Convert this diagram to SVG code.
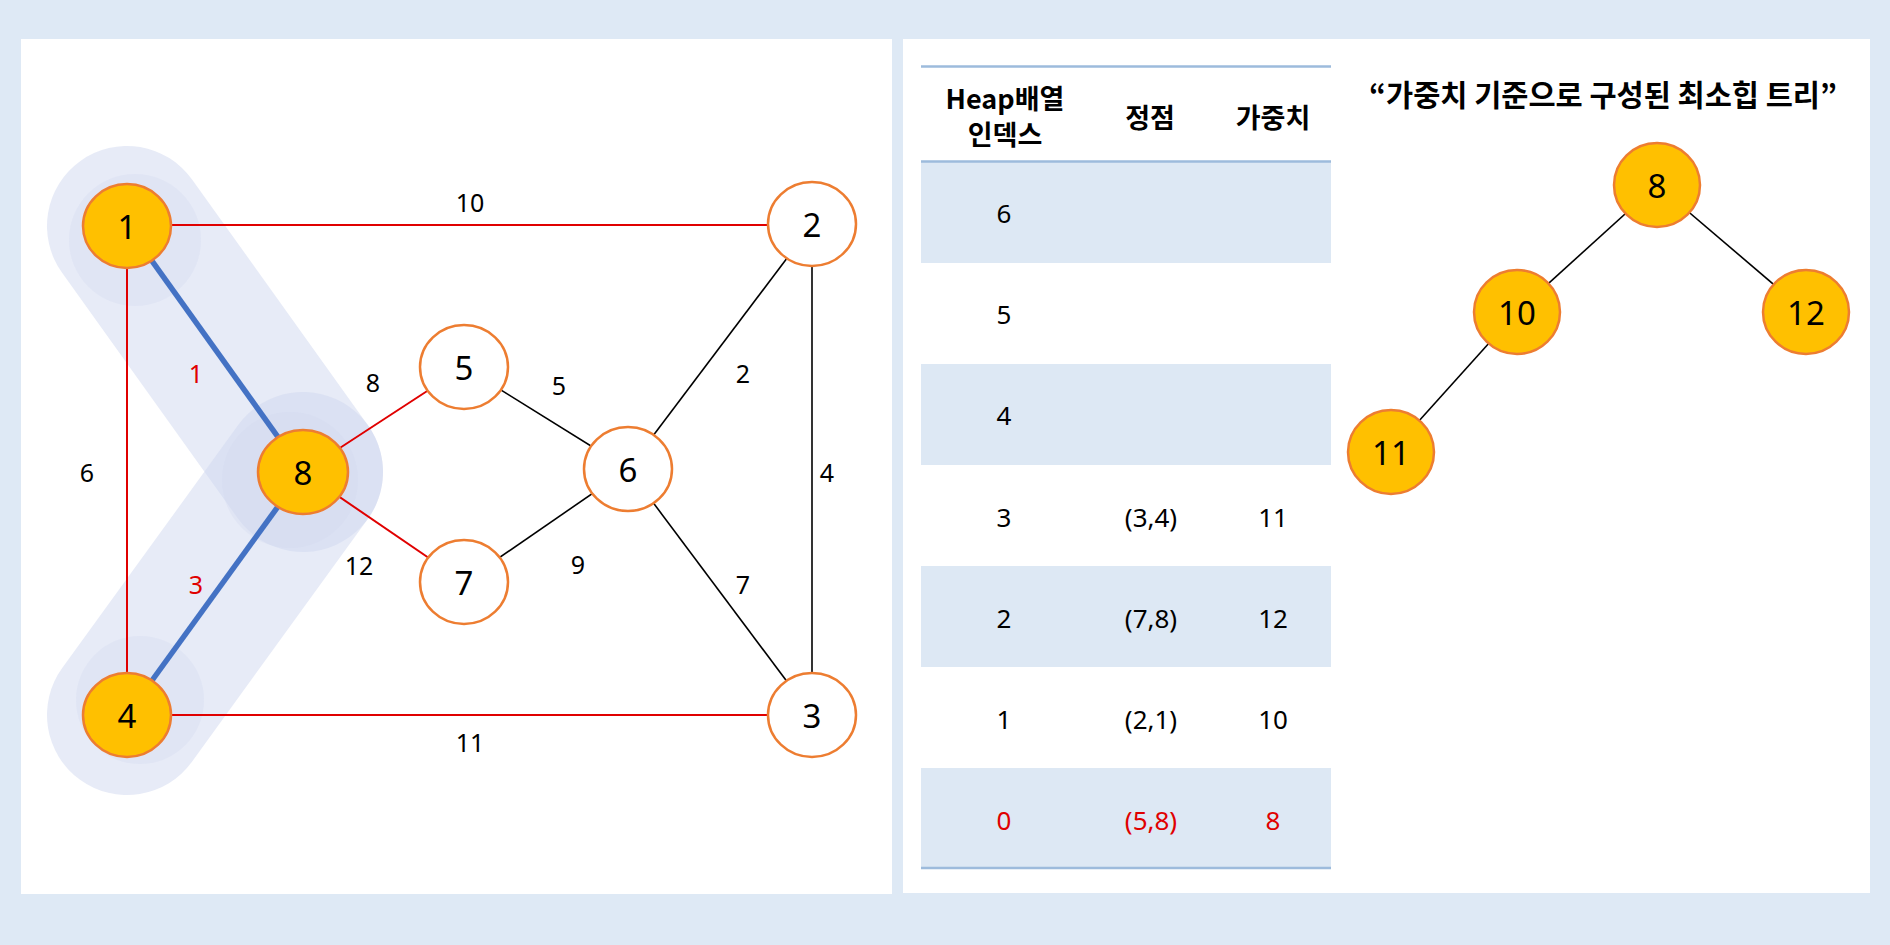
<svg xmlns="http://www.w3.org/2000/svg" width="1890" height="945" viewBox="0 0 1890 945">
<style>
.n{stroke:#ed7d31;stroke-width:2.5}
.g{fill:#ffc000}
.w{fill:#fff}
.nt{font-family:"Noto Sans","Noto Sans CJK KR",sans-serif;font-size:33px;fill:#000;text-anchor:middle;dominant-baseline:central}
.el{font-family:"Noto Sans","Noto Sans CJK KR",sans-serif;font-size:25px;fill:#000;text-anchor:middle;dominant-baseline:central}
.er{stroke:#e00000;stroke-width:2}
.eb{stroke:#000;stroke-width:1.6}
.blue{stroke:#4472c4;stroke-width:5.5}
.hl{stroke:#cfd8ef;stroke-opacity:0.5;stroke-width:160;stroke-linecap:round}
.hc{fill:#cfd8ef;fill-opacity:0.3}
.th{font-family:"Noto Sans CJK KR",sans-serif;font-size:27px;font-weight:bold;fill:#000;text-anchor:middle;dominant-baseline:central}
.tt{font-family:"Noto Sans CJK KR",sans-serif;font-size:29.5px;font-weight:bold;fill:#000;text-anchor:middle;dominant-baseline:central}
.td{font-family:"Noto Sans","Noto Sans CJK KR",sans-serif;font-size:26px;fill:#000;text-anchor:middle;dominant-baseline:central}
.sh{fill:#dde8f4}
.tl{stroke:#9dbbdc;stroke-width:2.5}
text.red{fill:#e00000}
</style>
<rect x="0" y="0" width="1890" height="945" fill="#dee9f5"/>
<rect x="21" y="39" width="871" height="855" fill="#fff"/>
<rect x="903" y="39" width="967" height="854" fill="#fff"/>

<g id="highlight">
<line class="hl" x1="127" y1="226" x2="303" y2="472"/>
<line class="hl" x1="303" y1="472" x2="127" y2="715"/>
<circle class="hc" cx="135" cy="240" r="66"/>
<circle class="hc" cx="290" cy="480" r="68"/>
<circle class="hc" cx="140" cy="700" r="64"/>
</g>

<g id="connectors">
<line class="er" x1="127" y1="225" x2="812" y2="225"/>
<line class="er" x1="127" y1="226" x2="127" y2="715"/>
<line class="er" x1="127" y1="715" x2="812" y2="715"/>
<line class="blue" x1="127" y1="226" x2="303" y2="472"/>
<line class="blue" x1="303" y1="472" x2="127" y2="715"/>
<line class="er" x1="303" y1="472" x2="464" y2="367"/>
<line class="er" x1="303" y1="472" x2="464" y2="582"/>
<line class="eb" x1="464" y1="367" x2="628" y2="469"/>
<line class="eb" x1="464" y1="582" x2="628" y2="469"/>
<line class="eb" x1="812" y1="225" x2="628" y2="469"/>
<line class="eb" x1="628" y1="469" x2="812" y2="715"/>
<line class="eb" x1="812" y1="225" x2="812" y2="715"/>
<text class="el" x="470" y="202">10</text>
<text class="el" x="87" y="472">6</text>
<text class="el" x="470" y="742">11</text>
<text class="el red" x="196" y="373">1</text>
<text class="el red" x="196" y="584">3</text>
<text class="el" x="373" y="382">8</text>
<text class="el" x="359" y="565">12</text>
<text class="el" x="559" y="385">5</text>
<text class="el" x="578" y="564">9</text>
<text class="el" x="743" y="373">2</text>
<text class="el" x="743" y="584">7</text>
<text class="el" x="827" y="472">4</text>
</g>

<g id="node-1"><ellipse class="n g" cx="127" cy="226" rx="44" ry="42"/><text class="nt" x="127" y="226">1</text></g>
<g id="node-2"><ellipse class="n w" cx="812" cy="224" rx="44" ry="42"/><text class="nt" x="812" y="224">2</text></g>
<g id="node-3"><ellipse class="n w" cx="812" cy="715" rx="44" ry="42"/><text class="nt" x="812" y="715">3</text></g>
<g id="node-4"><ellipse class="n g" cx="127" cy="715" rx="44" ry="42"/><text class="nt" x="127" y="715">4</text></g>
<g id="node-5"><ellipse class="n w" cx="464" cy="367" rx="44" ry="42"/><text class="nt" x="464" y="367">5</text></g>
<g id="node-6"><ellipse class="n w" cx="628" cy="469" rx="44" ry="42"/><text class="nt" x="628" y="469">6</text></g>
<g id="node-7"><ellipse class="n w" cx="464" cy="582" rx="44" ry="42"/><text class="nt" x="464" y="582">7</text></g>
<g id="node-8"><ellipse class="n g" cx="303" cy="472" rx="45" ry="42"/><text class="nt" x="303" y="472">8</text></g>

<g id="heap-table">
<rect class="sh" x="921" y="162" width="410" height="101"/>
<rect class="sh" x="921" y="364" width="410" height="101"/>
<rect class="sh" x="921" y="566" width="410" height="101"/>
<rect class="sh" x="921" y="768" width="410" height="100"/>
<line class="tl" x1="921" y1="66.5" x2="1331" y2="66.5"/>
<line class="tl" x1="921" y1="161.5" x2="1331" y2="161.5"/>
<line class="tl" x1="921" y1="868" x2="1331" y2="868"/>
<text class="th" x="1005" y="97">Heap배열</text>
<text class="th" x="1005" y="133">인덱스</text>
<text class="th" x="1150" y="116">정점</text>
<text class="th" x="1273" y="116">가중치</text>
<text class="td" x="1004" y="213">6</text>
<text class="td" x="1004" y="314">5</text>
<text class="td" x="1004" y="415">4</text>
<text class="td" x="1004" y="517">3</text>
<text class="td" x="1151" y="517">(3,4)</text>
<text class="td" x="1273" y="517">11</text>
<text class="td" x="1004" y="618">2</text>
<text class="td" x="1151" y="618">(7,8)</text>
<text class="td" x="1273" y="618">12</text>
<text class="td" x="1004" y="719">1</text>
<text class="td" x="1151" y="719">(2,1)</text>
<text class="td" x="1273" y="719">10</text>
<text class="td red" x="1004" y="820">0</text>
<text class="td red" x="1151" y="820">(5,8)</text>
<text class="td red" x="1273" y="820">8</text>
</g>

<text class="tt" x="1603" y="93">“가중치 기준으로 구성된 최소힙 트리”</text>

<g id="tree-connectors">
<line class="eb" x1="1657" y1="185" x2="1517" y2="312"/>
<line class="eb" x1="1657" y1="185" x2="1806" y2="312"/>
<line class="eb" x1="1517" y1="312" x2="1391" y2="452"/>
</g>
<g id="tree-8"><ellipse class="n g" cx="1657" cy="185" rx="43" ry="42"/><text class="nt" x="1657" y="185">8</text></g>
<g id="tree-10"><ellipse class="n g" cx="1517" cy="312" rx="43" ry="42"/><text class="nt" x="1517" y="312">10</text></g>
<g id="tree-12"><ellipse class="n g" cx="1806" cy="312" rx="43" ry="42"/><text class="nt" x="1806" y="312">12</text></g>
<g id="tree-11"><ellipse class="n g" cx="1391" cy="452" rx="43" ry="42"/><text class="nt" x="1391" y="452">11</text></g>
</svg>
